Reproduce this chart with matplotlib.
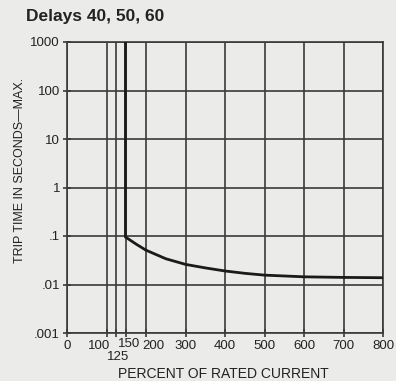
import matplotlib
matplotlib.use("Agg")
import matplotlib.pyplot as plt
from matplotlib.transforms import ScaledTranslation

# trip curve (percent of rated current vs seconds)
current = [148, 148, 150, 175, 200, 250, 300, 350, 400, 450, 500, 600, 700, 800]
trip_time = [1000, 0.095, 0.093, 0.068, 0.051, 0.034, 0.026, 0.022, 0.019, 0.017, 0.0156, 0.0144, 0.014, 0.0138]

x_ticks = [0, 100, 125, 150, 200, 300, 400, 500, 600, 700, 800]
x_labels = ["0", "100", "125", "150", "200", "300", "400", "500", "600", "700", "800"]
y_ticks = [0.001, 0.01, 0.1, 1, 10, 100, 1000]
y_labels = [".001", ".01", ".1", "1", "10", "100", "1000"]

# crowded labels near 100-200 are nudged (pixels dx, dy)
nudge = {"100": (-7, 0), "125": (1.5, -11), "150": (2.5, 1.5), "200": (7, 0)}

plt.rcParams["font.family"] = "Liberation Sans"
bg = "#ebebe9"
grid_c = "#3a3a3a"
txt_c = "#222222"

fig = plt.figure(figsize=(3.96, 3.81), dpi=100, facecolor=bg)
ax = fig.add_axes([67/396, 48/381, 316/396, 291/381])
ax.set_facecolor(bg)

ax.set_yscale("log")
ax.set_xlim(0, 800)
ax.set_ylim(0.001, 1000)

for x in x_ticks:
    ax.axvline(x, color=grid_c, lw=1.2, zorder=1)
for y in y_ticks:
    ax.axhline(y, color=grid_c, lw=1.2, zorder=1)

ax.plot(current, trip_time, color="#1a1a1a", lw=2.0, zorder=3)

ax.set_xticks(x_ticks)
ax.set_xticklabels(x_labels, fontsize=9.5, color=txt_c)
ax.set_yticks(y_ticks)
ax.set_yticklabels(y_labels, fontsize=9.5, color=txt_c)
ax.minorticks_off()
ax.tick_params(axis="both", direction="inout", length=6, width=1.2, color=grid_c, pad=2)
for lab in ax.get_xticklabels():
    t = lab.get_text()
    if t in nudge:
        dx, dy = nudge[t]
        lab.set_transform(lab.get_transform() + ScaledTranslation(dx/100, dy/100, fig.dpi_scale_trans))

for s in ax.spines.values():
    s.set_color(grid_c)
    s.set_linewidth(1.2)

fig.text(223/396, 1 - 373.5/381, "PERCENT OF RATED CURRENT", fontsize=10,
         color=txt_c, ha="center", va="center")
fig.text(20/396, 1 - 170/381, "TRIP TIME IN SECONDS\u2014MAX.", fontsize=9,
         color=txt_c, ha="center", va="center", rotation=90)

fig.text(26/396, 1 - 16/381, "Delays 40, 50, 60", fontsize=12.5, fontweight="bold",
         color=txt_c, va="center", ha="left")

fig.savefig("out.png", dpi=100, facecolor=bg)
